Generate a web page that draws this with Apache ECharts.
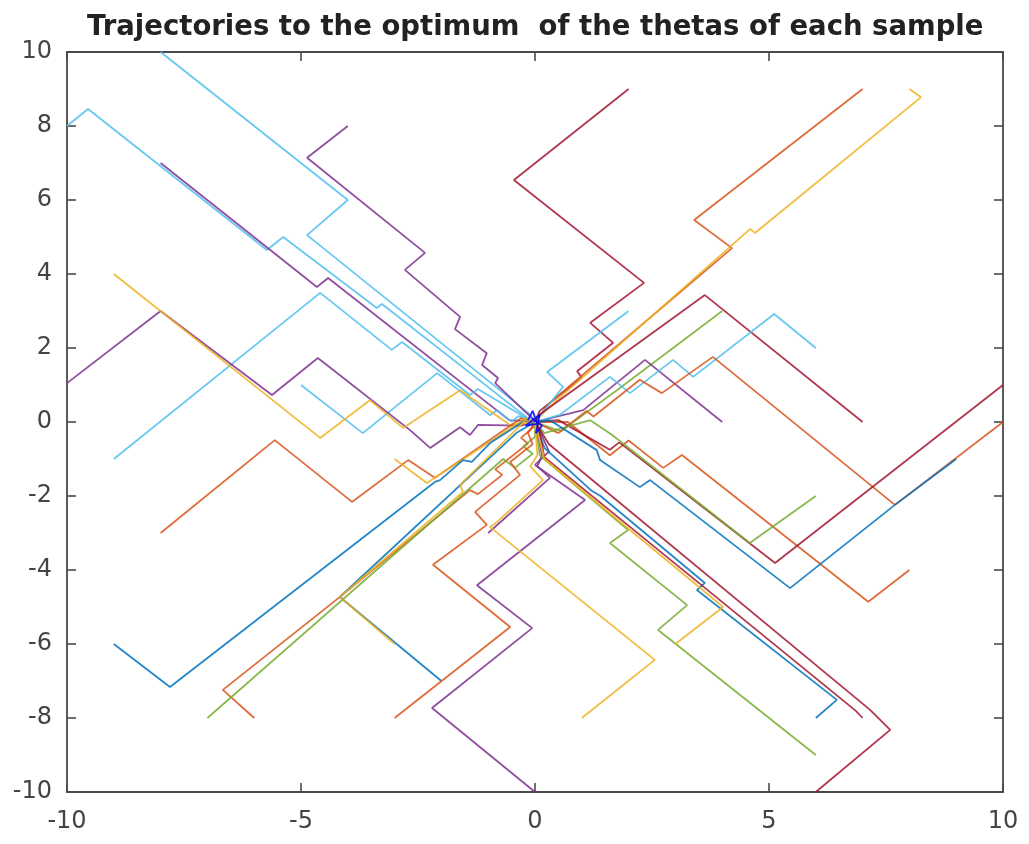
<!DOCTYPE html>
<html>
<head>
<meta charset="utf-8">
<script src="https://cdn.jsdelivr.net/npm/echarts@6/dist/echarts.min.js"></script>
<style>
	html, body { margin: 0; padding: 0; background: #fff; }
	#traj { width: 1029px; height: 844px; }
</style>
</head>
<body>
<div id="traj"></div>
<script>
	// tick labels
	const xTicks = [-10, -5, 0, 5, 10]
	const yTicks = [-10, -8, -6, -4, -2, 0, 2, 4, 6, 8, 10]

	// trajectories [theta1, theta2]
	const p01 = [[-8, 10], [-4, 6], [-4.87, 5.05], [-0.1, 0.2], [0, 0]]
	const p02 = [[-10, 8], [-9.55, 8.46], [-5.73, 4.65], [-5.38, 5.0], [-3.38, 3.08], [-3.27, 3.19], [-0.1, 0.05], [0, 0]]
	const p03 = [[-8, 7], [-4.66, 3.65], [-4.42, 3.89], [-0.55, 0.05], [0, 0]]
	const p04 = [[-4, 8], [-4.87, 7.14], [-2.35, 4.57], [-2.78, 4.11], [-1.6, 2.84], [-1.71, 2.51], [-1.03, 1.86], [-1.13, 1.54], [-0.79, 1.19], [-0.85, 1.05], [-0.11, 0.16], [0, 0]]
	const p05 = [[-9, -1], [-4.59, 3.49], [-3.06, 1.95], [-2.84, 2.16], [-1.39, 0.73], [-1.22, 0.89], [-0.11, 0.05], [0, 0]]
	const p06 = [[-5, 1], [-3.68, -0.3], [-2.09, 1.32], [-0.96, 0.19], [-0.81, 0.32], [-0.5, 0.01], [-0.35, 0.16], [0, 0]]
	const p07 = [[-10, 1.05], [-8, 3], [-5.62, 0.73], [-4.64, 1.73], [-2.67, -0.22], [-2.24, -0.7], [-1.6, -0.14], [-1.39, -0.35], [-1.22, -0.08], [-0.3, -0.1], [0, 0]]
	const p08 = [[-9, 4], [-4.59, -0.43], [-3.53, 0.59], [-2.82, -0.16], [-1.6, 0.86], [-0.53, -0.08], [0, 0]]
	const p09 = [[-8, -3], [-5.56, -0.49], [-3.91, -2.16], [-2.71, -1.03], [-2.14, -1.51], [-0.3, 0.1], [0, 0]]
	const p10 = [[-3, -1], [-2.31, -1.65], [-0.2, 0.1], [0, 0]]
	const p11 = [[-9, -6], [-7.8, -7.16], [-2.14, -1.62], [-2.03, -1.57], [-1.54, -1.03], [-1.35, -1.08], [-0.96, -0.57], [-0.2, 0.05], [0, 0]]
	const p12 = [[-6, -8], [-6.67, -7.24], [-4.12, -4.68], [-1.39, -1.84], [-1.22, -1.95], [-0.7, -1.43], [-0.85, -1.28], [-0.15, -0.58], [-0.3, -0.43], [0, -0.1], [0, 0]]
	const p13 = [[-7, -8], [-0.68, -1.0], [-0.43, -1.24], [-0.05, -0.86], [-0.25, -0.66], [0, -0.4], [0, 0]]
	const p14 = [[-2, -7], [-4.17, -4.73], [-0.4, -0.3], [0, 0]]
	const p15 = [[-3, -6], [-4.17, -4.73], [-4.05, -4.6], [-1.54, -1.89], [-1.6, -1.7], [-0.2, 0.05], [0, 0]]
	const p16 = [[-3, -8], [-0.53, -5.54], [-2.18, -3.86], [-1.03, -2.78], [-1.28, -2.43], [-0.32, -1.43], [-0.53, -1.08], [-0.05, -0.6], [-0.15, -0.3], [0, 0]]
	const p17 = [[0, -10], [-2.2, -7.73], [-0.06, -5.57], [-1.24, -4.41], [1.07, -2.11], [0, -1.16], [0.3, -0.8], [0.05, -0.1], [0, 0]]
	const p18 = [[-1, -3], [0.32, -1.51], [0.05, -1.2], [0.15, -0.9], [0, 0]]
	const p19 = [[2, 9], [-0.45, 6.54], [2.33, 3.76], [1.18, 2.68], [1.67, 2.14], [0.9, 1.37], [1.0, 1.2], [0.1, 0.3], [0, 0]]
	const p20 = [[7, 9], [3.4, 5.46], [4.21, 4.7], [0.3, 0.5], [0, 0]]
	const p21 = [[8, 9], [8.25, 8.78], [4.7, 5.11], [4.6, 5.22], [0.3, 0.4], [0, 0]]
	const p22 = [[2, 3], [0.26, 1.35], [0.6, 0.95], [0, 0]]
	const p23 = [[7, 0], [3.63, 3.43], [0.1, 0.2], [0, 0]]
	const p24 = [[4, 3], [1.75, 0.86], [0.55, -0.25], [0, 0]]
	const p25 = [[4, 0], [2.35, 1.68], [1.03, 0.32], [0, 0]]
	const p26 = [[6, 2], [5.11, 2.92], [3.38, 1.22], [2.95, 1.68], [2.03, 0.78], [1.6, 1.22], [0.53, 0.19], [0, 0]]
	const p27 = [[10, 0], [7.69, -2.24], [3.8, 1.76], [2.71, 0.78], [2.24, 1.14], [1.25, 0.15], [1.1, 0.3], [0.5, -0.3], [0, 0]]
	const p28 = [[8, -4], [7.12, -4.86], [3.14, -0.89], [2.74, -1.24], [2.0, -0.5], [1.6, -0.9], [0.7, 0], [0, 0]]
	const p29 = [[10, 1], [5.13, -3.81], [1.8, -0.55], [1.6, -0.75], [0.5, 0.05], [0, 0]]
	const p30 = [[6, -2], [4.59, -3.27], [1.65, -0.35], [1.18, 0.05], [0.2, -0.3], [0, 0]]
	const p31 = [[9, -1], [7.69, -2.24], [5.45, -4.49], [2.46, -1.57], [2.24, -1.76], [1.39, -1.03], [1.32, -0.76], [0.32, 0.05], [0, 0]]
	const p32 = [[6, -8], [6.45, -7.51], [3.46, -4.54], [3.63, -4.35], [1.4, -2.0], [1.2, -1.85], [0.2, -0.7], [0, 0]]
	const p33 = [[6, -10], [7.59, -8.32], [7.16, -7.78], [0.3, -0.6], [0, 0]]
	const p34 = [[7, -8], [6.85, -7.8], [0.2, -0.95], [0.1, -0.3], [0, 0]]
	const p35 = [[6, -9], [2.63, -5.62], [3.25, -4.95], [1.6, -3.27], [1.99, -2.92], [0.1, -0.9], [0, 0]]
	const p36 = [[3, -6], [4.02, -5.0], [2.03, -2.92], [0.2, -1.0], [0, 0]]
	const p37 = [[1, -8], [2.56, -6.43], [-0.96, -2.84], [-0.81, -2.7], [0.17, -1.57], [-0.1, -1.2], [0.05, -0.9], [0, 0]]
	// the little knot at the optimum
	const pOpt = [[-0.15, 0.05], [-0.05, 0.3], [0.05, -0.05], [-0.2, -0.1], [0.1, 0.2], [0.02, -0.3], [0.15, -0.1], [-0.05, 0.1], [0, 0]]

	const C = {
		blue: '#0072BD', orange: '#D95319', yellow: '#EDB120', purple: '#7E2F8E',
		green: '#77AC30', cyan: '#4DBEEE', red: '#A2142F', pure: '#0000FF'
	}

	const paths = [
		[p01, C.cyan], [p02, C.cyan], [p03, C.purple], [p04, C.purple], [p05, C.cyan], [p06, C.cyan],
		[p07, C.purple], [p08, C.yellow], [p09, C.orange], [p10, C.yellow], [p11, C.blue], [p12, C.orange],
		[p13, C.green], [p14, C.blue], [p15, C.yellow], [p16, C.orange], [p17, C.purple], [p18, C.purple],
		[p19, C.red], [p20, C.orange], [p21, C.yellow], [p22, C.cyan], [p23, C.red], [p24, C.green],
		[p25, C.purple], [p26, C.cyan], [p27, C.orange], [p28, C.orange], [p29, C.red], [p30, C.green],
		[p31, C.blue], [p32, C.blue], [p33, C.red], [p34, C.red], [p35, C.green], [p36, C.yellow],
		[p37, C.yellow], [pOpt, C.pure]
	]

	const chart = echarts.init(document.getElementById('traj'))

	const axisColor = '#4a4a4a'
	const font = 'DejaVu Sans'

	function xAx(pos, labels) {
		return {
			type: 'value', position: pos, min: -10, max: 10, interval: 5,
			axisLine: { show: true, onZero: false, lineStyle: { color: axisColor, width: 1.8 } },
			axisTick: { show: true, inside: true, length: 9, lineStyle: { color: axisColor, width: 1.6 } },
			axisLabel: {
				show: labels, fontSize: 24, color: '#444', margin: 18, fontFamily: font,
				customValues: xTicks
			},
			splitLine: { show: false }
		}
	}

	function yAx(pos, labels) {
		return {
			type: 'value', position: pos, min: -10, max: 10, interval: 2,
			axisLine: { show: true, onZero: false, lineStyle: { color: axisColor, width: 1.8 } },
			axisTick: { show: true, inside: true, length: 9, lineStyle: { color: axisColor, width: 1.6 } },
			axisLabel: {
				show: labels, fontSize: 24, color: '#444', margin: 15, fontFamily: font,
				customValues: yTicks
			},
			splitLine: { show: false }
		}
	}

	let option = {
		backgroundColor: '#fff',
		animation: false,
		title: {
			text: 'Trajectories to the optimum  of the thetas of each sample',
			left: 82,
			top: 9,
			textStyle: { fontFamily: font, fontSize: 27.5, fontWeight: 'bold', color: '#222' }
		},
		grid: { left: 67, top: 52, right: 26, bottom: 52, containLabel: false },
		xAxis: [xAx('bottom', true), xAx('top', false)],
		yAxis: [yAx('left', true), yAx('right', false)],
		series: paths.map(p => ({
			type: 'line',
			data: p[0],
			showSymbol: false,
			symbol: 'none',
			lineStyle: { color: p[1], width: 1.8, opacity: 0.85 },
			z: 2
		}))
	}
	chart.setOption(option)
</script>
</body>
</html>
